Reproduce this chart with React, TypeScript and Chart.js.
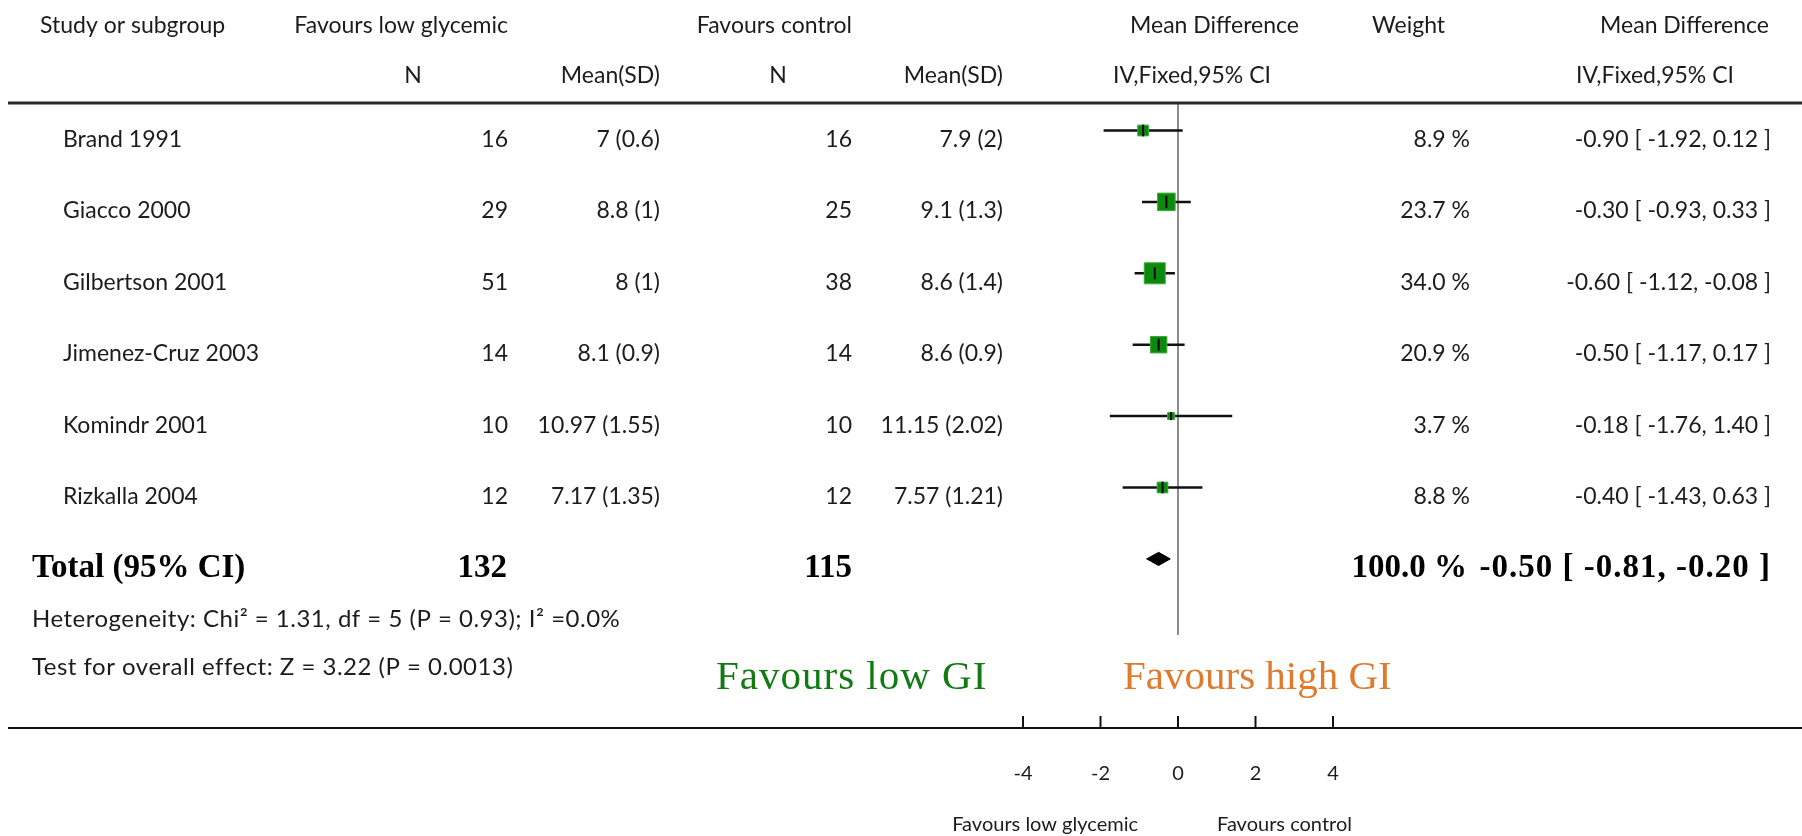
import React, { useEffect, useRef } from "react";
import { Chart, registerables } from "chart.js";

Chart.register(...registerables);

// ---------------- data ----------------
const studies = [
  "Brand 1991",
  "Giacco 2000",
  "Gilbertson 2001",
  "Jimenez-Cruz 2003",
  "Komindr 2001",
  "Rizkalla 2004",
];
const nLow = [16, 29, 51, 14, 10, 12];
const meanSdLow = ["7 (0.6)", "8.8 (1)", "8 (1)", "8.1 (0.9)", "10.97 (1.55)", "7.17 (1.35)"];
const nControl = [16, 25, 38, 14, 10, 12];
const meanSdControl = ["7.9 (2)", "9.1 (1.3)", "8.6 (1.4)", "8.6 (0.9)", "11.15 (2.02)", "7.57 (1.21)"];
const meanDiff = [-0.9, -0.3, -0.6, -0.5, -0.18, -0.4];
const ciLower = [-1.92, -0.93, -1.12, -1.17, -1.76, -1.43];
const ciUpper = [0.12, 0.33, -0.08, 0.17, 1.4, 0.63];
const weights = [8.9, 23.7, 34.0, 20.9, 3.7, 8.8];

const totalLabel = "Total (95% CI)";
const totalNLow = 132;
const totalNControl = 115;
const totalWeight = 100.0;
const totalMd = -0.5;
const totalLower = -0.81;
const totalUpper = -0.2;

const heterogeneityText = "Heterogeneity: Chi\u00B2 = 1.31, df = 5 (P = 0.93); I\u00B2 =0.0%";
const overallText = "Test for overall effect: Z = 3.22 (P = 0.0013)";

const xTicks = [-4, -2, 0, 2, 4];
const leftFavour = "Favours low glycemic";
const rightFavour = "Favours control";
const bigLeftFavour = "Favours low GI";
const bigRightFavour = "Favours high GI";

// ---------------- layout / style ----------------
const W = 1802;
const H = 836;
const ZERO_PX = 1178;
const PX_PER_UNIT = 38.75;
const AREA_LEFT = 8;
const AREA_TOP = 103;
const AREA_BOTTOM = 728;
const ROW0_PX = 130.5;
const ROW_PX = 71.4;

const X_MIN = (AREA_LEFT - ZERO_PX) / PX_PER_UNIT;
const X_MAX = (W - ZERO_PX) / PX_PER_UNIT;
const Y_MIN = -(ROW0_PX - AREA_TOP) / ROW_PX;
const Y_MAX = Y_MIN + (AREA_BOTTOM - AREA_TOP) / ROW_PX;
const TOTAL_ROW = studies.length;
const ZERO_LINE_END = (635 - ROW0_PX) / ROW_PX;
const DIAMOND_HALF = 0.092;

const SANS = "Lato, 'Open Sans', sans-serif";
const SERIF = "'Liberation Serif', 'Times New Roman', serif";
const GREEN = "#0b8a0b";

const fmt2 = (v: number) => v.toFixed(2);
const ciText = (m: number, lo: number, hi: number) => `${fmt2(m)} [ ${fmt2(lo)}, ${fmt2(hi)} ]`;
const boxSide = (w: number) => 3.6 * Math.sqrt(w);

const tablePlugin = {
  id: "forestTable",
  afterDraw(chart: any) {
    const { ctx, chartArea, scales } = chart;
    const ys = scales.y;
    const xs = scales.x;
    const rowY = (i: number) => ys.getPixelForValue(i);

    const txt = (
      s: string,
      px: number,
      py: number,
      align: CanvasTextAlign = "left",
      font = `23px ${SANS}`,
      color = "#1c1c1c",
      spacing = "0px"
    ) => {
      ctx.font = font;
      ctx.fillStyle = color;
      ctx.textAlign = align;
      ctx.textBaseline = "alphabetic";
      (ctx as any).letterSpacing = spacing;
      ctx.fillText(s, px, py);
      (ctx as any).letterSpacing = "0px";
    };

    ctx.save();

    // header
    txt("Study or subgroup", 40, 33);
    txt("Favours low glycemic", 508, 33, "right");
    txt("Favours control", 852, 33, "right");
    txt("Mean Difference", 1130, 33);
    txt("Weight", 1372, 33);
    txt("Mean Difference", 1769, 33, "right");
    txt("N", 413, 83, "center");
    txt("Mean(SD)", 660, 83, "right");
    txt("N", 778, 83, "center");
    txt("Mean(SD)", 1003, 83, "right");
    txt("IV,Fixed,95% CI", 1113, 83);
    txt("IV,Fixed,95% CI", 1576, 83);

    // header rule
    ctx.strokeStyle = "#2a2a2a";
    ctx.lineWidth = 3;
    ctx.beginPath();
    ctx.moveTo(chartArea.left, chartArea.top);
    ctx.lineTo(chartArea.right, chartArea.top);
    ctx.stroke();

    // study rows
    studies.forEach((name, i) => {
      const by = rowY(i) + 16.5;
      txt(name, 63, by);
      txt(String(nLow[i]), 508, by, "right");
      txt(meanSdLow[i], 660, by, "right");
      txt(String(nControl[i]), 852, by, "right");
      txt(meanSdControl[i], 1003, by, "right");
      txt(`${weights[i].toFixed(1)} %`, 1470, by, "right");
      txt(ciText(meanDiff[i], ciLower[i], ciUpper[i]), 1771, by, "right");
    });

    // total row
    const tb = rowY(TOTAL_ROW) + 18;
    const bold = `bold 33px ${SERIF}`;
    txt(totalLabel, 32, tb, "left", bold, "#000");
    txt(String(totalNLow), 507, tb, "right", bold, "#000");
    txt(String(totalNControl), 852, tb, "right", bold, "#000");
    txt(`${totalWeight.toFixed(1)} %`, 1467, tb, "right", bold, "#000");
    txt(ciText(totalMd, totalLower, totalUpper), 1771, tb, "right", bold, "#000", "1px");

    txt(heterogeneityText, 32, 627, "left", `24px ${SANS}`, "#1c1c1c", "0.5px");
    txt(overallText, 32, 675, "left", `24px ${SANS}`, "#1c1c1c", "0.5px");

    txt(bigLeftFavour, 716, 689, "left", `41px ${SERIF}`, "#137a13", "1px");
    txt(bigRightFavour, 1123, 689, "left", `41px ${SERIF}`, "#e07a2c");

    // x axis
    ctx.strokeStyle = "#111";
    ctx.lineWidth = 2;
    ctx.beginPath();
    ctx.moveTo(chartArea.left, chartArea.bottom);
    ctx.lineTo(chartArea.right, chartArea.bottom);
    ctx.stroke();
    xTicks.forEach((t) => {
      const px = xs.getPixelForValue(t);
      ctx.beginPath();
      ctx.moveTo(px, chartArea.bottom - 12);
      ctx.lineTo(px, chartArea.bottom);
      ctx.stroke();
      txt(String(t), px, 780, "center", `20px ${SANS}`);
    });
    txt(leftFavour, 1138, 831, "right", `20px ${SANS}`);
    txt(rightFavour, 1217, 831, "left", `20px ${SANS}`);

    ctx.restore();
  },
};

export default function App() {
  const canvasRef = useRef<HTMLCanvasElement | null>(null);

  useEffect(() => {
    const canvas = canvasRef.current;
    if (!canvas) return;

    const ciDatasets = studies.map((s, i) => ({
      type: "line" as const,
      label: s,
      data: [
        { x: ciLower[i], y: i },
        { x: ciUpper[i], y: i },
      ],
      borderColor: "#111",
      borderWidth: 2.5,
      pointRadius: 0,
      fill: false,
      order: 5,
    }));

    const chart = new Chart(canvas, {
      type: "scatter",
      data: {
        datasets: [
          {
            type: "line",
            label: "zero",
            data: [
              { x: 0, y: Y_MIN },
              { x: 0, y: ZERO_LINE_END },
            ],
            borderColor: "#8c8c8c",
            borderWidth: 2,
            pointRadius: 0,
            fill: false,
            order: 10,
          },
          ...ciDatasets,
          {
            type: "scatter",
            label: "weights",
            data: meanDiff.map((m, i) => ({ x: m, y: i })),
            pointStyle: "rect",
            pointRadius: weights.map((w) => boxSide(w) / Math.SQRT2),
            backgroundColor: GREEN,
            borderColor: "#3aa83a",
            borderWidth: 1,
            order: 2,
          },
          {
            type: "scatter",
            label: "estimate",
            data: meanDiff.map((m, i) => ({ x: m, y: i })),
            pointStyle: "line",
            rotation: 90,
            pointRadius: weights.map((w) => Math.min(6, boxSide(w) / 2 + 0.5)),
            borderColor: "#000",
            borderWidth: 2,
            order: 1,
          },
          {
            type: "line",
            label: "total",
            data: [
              { x: totalLower, y: TOTAL_ROW },
              { x: totalMd, y: TOTAL_ROW - DIAMOND_HALF },
              { x: totalUpper, y: TOTAL_ROW },
              { x: totalMd, y: TOTAL_ROW + DIAMOND_HALF },
              { x: totalLower, y: TOTAL_ROW },
            ],
            borderColor: "#000",
            backgroundColor: "#000",
            borderWidth: 1,
            pointRadius: 0,
            fill: "shape",
            order: 1,
          },
        ] as any,
      },
      options: {
        animation: false,
        responsive: false,
        events: [],
        layout: {
          autoPadding: false,
          padding: { left: AREA_LEFT, right: 0, top: AREA_TOP, bottom: H - AREA_BOTTOM },
        },
        plugins: {
          legend: { display: false },
          tooltip: { enabled: false },
        },
        scales: {
          x: { type: "linear", min: X_MIN, max: X_MAX, display: false },
          y: { type: "linear", min: Y_MIN, max: Y_MAX, reverse: true, display: false },
        },
      } as any,
      plugins: [tablePlugin],
    });

    return () => chart.destroy();
  }, []);

  return (
    <div style={{ position: "fixed", left: 0, top: 0, width: W, height: H, background: "#fff" }}>
      <canvas ref={canvasRef} width={W} height={H} style={{ display: "block" }} />
    </div>
  );
}
